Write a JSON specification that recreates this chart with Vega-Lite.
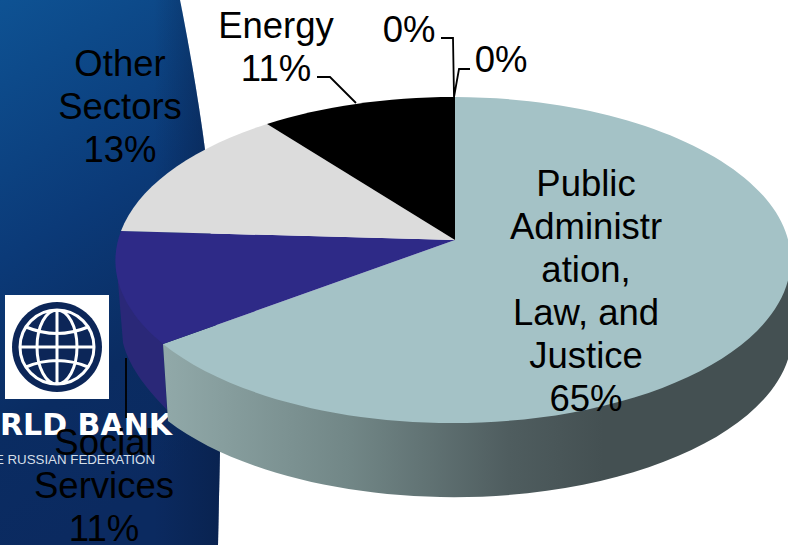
{
"$schema":"https://vega.github.io/schema/vega-lite/v6.json",
"width":788,"height":545,"padding":0,"autosize":{"type":"none"},
"background":"#ffffff",
"config":{"view":{"stroke":null}},
"data":{"values":[
{"sector":"Public Administration, Law, and Justice","share":65,"label":"Public\nAdministr\nation,\nLaw, and\nJustice\n65%"},
{"sector":"Social Services","share":11,"label":"Social\nServices\n11%"},
{"sector":"Other Sectors","share":13,"label":"Other\nSectors\n13%"},
{"sector":"Energy","share":11,"label":"Energy\n11%"},
{"sector":"Unnamed sector A","share":0,"label":"0%"},
{"sector":"Unnamed sector B","share":0,"label":"0%"}
]},
"layer":[
{"data":{"values":[{"part":"panel"}]},
 "mark":{"type":"point","filled":true,"opacity":1,"size":4,"strokeWidth":0,
  "shape":"M0,0 L180,0 C190,50 200,110 205,150 C212,250 218,350 220,450 L218,545 L0,545 Z",
  "fill":{"gradient":"linear","x1":0,"y1":0,"x2":0.25,"y2":1,"stops":[{"offset":0,"color":"#0e5293"},{"offset":0.45,"color":"#0b3a78"},{"offset":0.75,"color":"#0a2c62"},{"offset":1,"color":"#0b2a60"}]}},
 "encoding":{"x":{"datum":0,"scale":{"domain":[0,788],"range":[0,788],"nice":false,"zero":false},"axis":null},"y":{"datum":0,"scale":{"domain":[0,545],"range":[0,545],"nice":false,"zero":false},"axis":null}}},
{"data":{"values":[{"part":"panel edge shade"}]},
 "mark":{"type":"point","filled":true,"opacity":1,"size":4,"strokeWidth":0,
  "shape":"M0,0 L180,0 C190,50 200,110 205,150 C212,250 218,350 220,450 L218,545 L0,545 Z",
  "fill":{"gradient":"linear","x1":0,"y1":0,"x2":1,"y2":0,"stops":[{"offset":0.7,"color":"rgba(8,30,70,0)"},{"offset":1,"color":"rgba(8,30,70,0.6)"}]}},
 "encoding":{"x":{"datum":0,"axis":null},"y":{"datum":0,"axis":null}}},
{"data":{"values":[{"part":"logo box"}]},
 "mark":{"type":"point","filled":true,"opacity":1,"size":4,"strokeWidth":0,"fill":"#ffffff","shape":"M5,295 L109,295 L109,399 L5,399 Z"},
 "encoding":{"x":{"datum":0,"axis":null},"y":{"datum":0,"axis":null}}},
{"data":{"values":[{"part":"globe disc"}]},
 "mark":{"type":"point","filled":true,"opacity":1,"size":4,"strokeWidth":0,"fill":"#0c2658","shape":"M-45,0 A45,45 0 1 1 45,0 A45,45 0 1 1 -45,0 Z"},
 "encoding":{"x":{"datum":57,"axis":null},"y":{"datum":347,"axis":null}}},
{"data":{"values":[{"part":"globe lines"}]},
 "mark":{"type":"point","filled":false,"opacity":1,"size":4,"strokeWidth":3,"stroke":"#ffffff",
  "shape":"M-37,0 A37,37 0 1 1 37,0 A37,37 0 1 1 -37,0 M0,-37 L0,37 M0,-37 A20,37 0 1 1 0,37 A20,37 0 1 1 0,-37 M-37,0 L37,0 M-31,-20 Q0,-7 31,-20 M-31,20 Q0,7 31,20"},
 "encoding":{"x":{"datum":57,"axis":null},"y":{"datum":347,"axis":null}}},
{"data":{"values":[{"text":"WORLD BANK"}]},
 "mark":{"type":"text","font":"DejaVu Sans","fontWeight":"bold","fontSize":30,"align":"right","baseline":"middle","fill":"#ffffff"},
 "encoding":{"text":{"field":"text"},"x":{"datum":172,"axis":null},"y":{"datum":426,"axis":null}}},
{"data":{"values":[{"text":"THE RUSSIAN FEDERATION"}]},
 "mark":{"type":"text","font":"Liberation Sans","fontSize":13.3,"align":"right","baseline":"middle","fill":"#d5dfe8"},
 "encoding":{"text":{"field":"text"},"x":{"datum":155,"axis":null},"y":{"datum":460,"axis":null}}},
{"data":{"values":[{"part":"side of Social Services"}]},
 "mark":{"type":"point","filled":true,"opacity":1,"size":4,"strokeWidth":0,"fill":"#2a2878",
  "shape":"M-339,20 L-292,104 L-288,170 C-305,152 -325,130 -332,103 L-338,30 Z"},
 "encoding":{"x":{"datum":455,"axis":null},"y":{"datum":240,"axis":null}}},
{"data":{"values":[{"part":"side of Public Administration"}]},
 "mark":{"type":"point","filled":true,"opacity":1,"size":4,"strokeWidth":0,
  "fill":{"gradient":"linear","x1":0,"y1":0,"x2":1,"y2":0,"stops":[{"offset":0,"color":"#91a9a9"},{"offset":0.3,"color":"#718686"},{"offset":0.55,"color":"#4f5d5f"},{"offset":0.7,"color":"#445052"},{"offset":1,"color":"#445052"}]},
  "shape":"M-292,104 L337,20 L337,95 A338,163 0 0 1 -287,181 Z"},
 "encoding":{"x":{"datum":455,"axis":null},"y":{"datum":240,"axis":null}}},
{"transform":[{"filter":"datum.share > 0"}],
 "mark":{"type":"point","filled":true,"opacity":1,"size":4,"strokeWidth":0},
 "encoding":{"x":{"datum":455,"axis":null},"y":{"datum":240,"axis":null},
  "shape":{"field":"sector","type":"nominal","legend":null,"scale":{"domain":["Public Administration, Law, and Justice","Social Services","Other Sectors","Energy"],"range":["M0,0 L0,-143 A338,163 0 1 1 -292,104 Z","M0,0 L-292,104 A338,163 0 0 1 -334,-9 Z","M0,0 L-334,-9 A338,163 0 0 1 -188,-116 Z","M0,0 L-188,-116 A338,163 0 0 1 0,-143 Z"]}},
  "color":{"field":"sector","type":"nominal","legend":null,"scale":{"domain":["Public Administration, Law, and Justice","Social Services","Other Sectors","Energy"],"range":["#a4c2c6","#2e2a87","#dcdcdc","#000000"]}}}},
{"data":{"values":[{"part":"leader lines"}]},
 "mark":{"type":"point","filled":false,"opacity":1,"size":4,"strokeWidth":1.8,"stroke":"#000000",
  "shape":"M317,77 L330,77 L356,103 M441,38 L453,38 L454,97 M470,69 L459,69 L454,97 M126,358 L126,418"},
 "encoding":{"x":{"datum":0,"axis":null},"y":{"datum":0,"axis":null}}},
{"transform":[{"filter":"datum.sector === 'Public Administration, Law, and Justice'"}],
 "mark":{"type":"text","font":"Liberation Sans","fontSize":36.5,"lineBreak":"\n","lineHeight":43,"align":"center","baseline":"middle","fill":"#000000"},
 "encoding":{"text":{"field":"label"},"x":{"datum":586,"axis":null},"y":{"datum":184.5,"axis":null}}},
{"transform":[{"filter":"datum.sector === 'Social Services'"}],
 "mark":{"type":"text","font":"Liberation Sans","fontSize":36.5,"lineBreak":"\n","lineHeight":43,"align":"center","baseline":"middle","fill":"#000000"},
 "encoding":{"text":{"field":"label"},"x":{"datum":104,"axis":null},"y":{"datum":443.5,"axis":null}}},
{"transform":[{"filter":"datum.sector === 'Other Sectors'"}],
 "mark":{"type":"text","font":"Liberation Sans","fontSize":36.5,"lineBreak":"\n","lineHeight":43,"align":"center","baseline":"middle","fill":"#000000"},
 "encoding":{"text":{"field":"label"},"x":{"datum":120,"axis":null},"y":{"datum":64.5,"axis":null}}},
{"transform":[{"filter":"datum.sector === 'Energy'"}],
 "mark":{"type":"text","font":"Liberation Sans","fontSize":36.5,"lineBreak":"\n","lineHeight":43,"align":"center","baseline":"middle","fill":"#000000"},
 "encoding":{"text":{"field":"label"},"x":{"datum":276,"axis":null},"y":{"datum":26.5,"axis":null}}},
{"transform":[{"filter":"datum.sector === 'Unnamed sector A'"}],
 "mark":{"type":"text","font":"Liberation Sans","fontSize":36.5,"align":"center","baseline":"middle","fill":"#000000"},
 "encoding":{"text":{"field":"label"},"x":{"datum":409,"axis":null},"y":{"datum":30.5,"axis":null}}},
{"transform":[{"filter":"datum.sector === 'Unnamed sector B'"}],
 "mark":{"type":"text","font":"Liberation Sans","fontSize":36.5,"align":"center","baseline":"middle","fill":"#000000"},
 "encoding":{"text":{"field":"label"},"x":{"datum":501,"axis":null},"y":{"datum":60.5,"axis":null}}}
]
}
